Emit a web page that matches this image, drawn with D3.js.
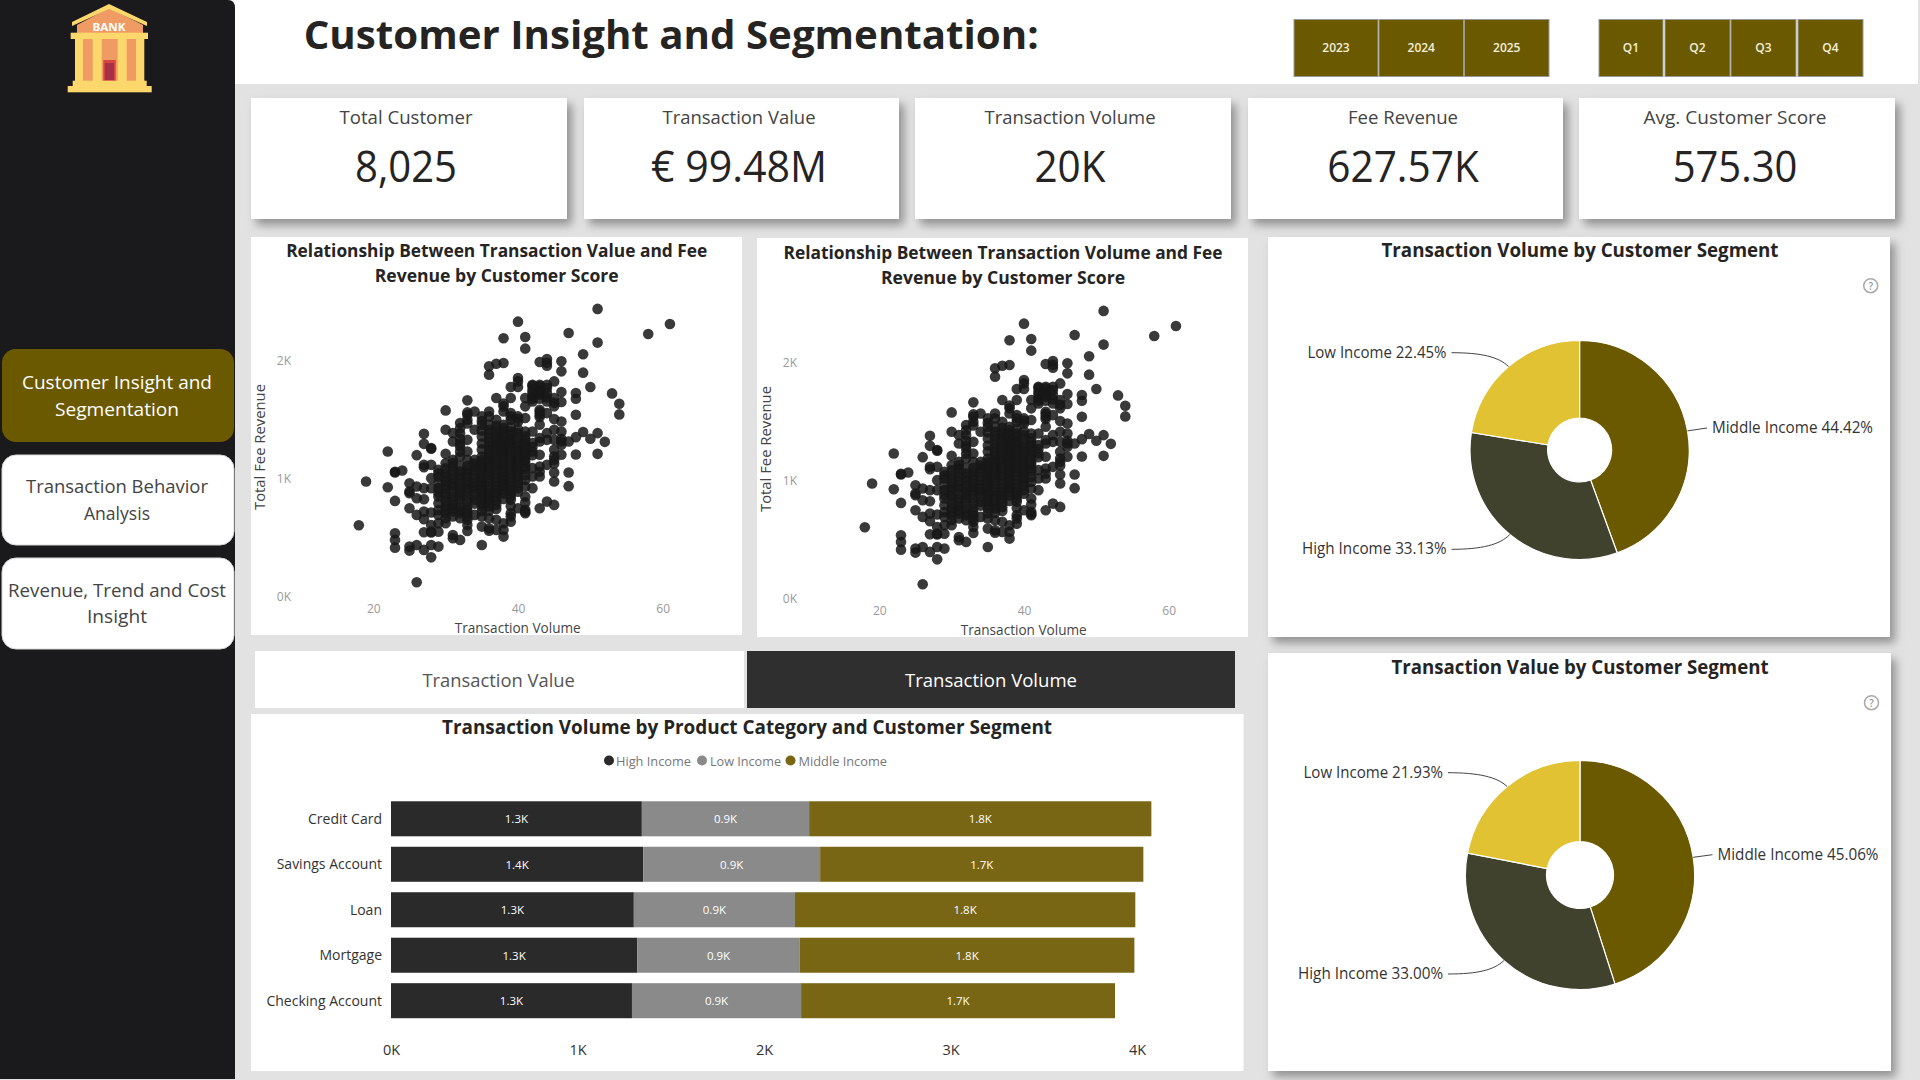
<!DOCTYPE html>
<html><head><meta charset="utf-8">
<script src="https://cdn.jsdelivr.net/npm/d3@7"></script>
<style>html,body{margin:0;padding:0;background:#e2e2e2;overflow:hidden}svg{display:block}text{font-family:"Open Sans",sans-serif;dominant-baseline:central}</style>
</head><body><svg id="c" width="1920" height="1080"></svg>
<script>
const kpiLabels=["Total Customer","Transaction Value","Transaction Volume","Fee Revenue","Avg. Customer Score"];
const kpiValues=["8,025","€ 99.48M","20K","627.57K","575.30"];
const yearLabels=["2023","2024","2025"];
const quarterLabels=["Q1","Q2","Q3","Q4"];
const navLabels=[["Customer Insight and","Segmentation"],["Transaction Behavior","Analysis"],["Revenue, Trend and Cost","Insight"]];
const segmentOrder=["High Income","Low Income","Middle Income"];
const productCategories=["Credit Card","Savings Account","Loan","Mortgage","Checking Account"];
const highIncomeVolume=[1345,1352,1302,1320,1292];
const lowIncomeVolume=[897,949,864,872,907];
const middleIncomeVolume=[1835,1733,1825,1794,1683];
const barTicks=[0,1000,2000,3000,4000];
const pieSegments=["Middle Income","High Income","Low Income"];
const volumeShare=[44.42,33.13,22.45];
const valueShare=[45.06,33.00,21.93];
const scatterXTicks=[20,40,60];
const scatterYTicks=[0,1000,2000];
// transaction volume -> fee revenue of each customer group
const feeByVolume=[
[18,[606]],[19,[977]],[22,[1232,929]],[23,[1054,1060,813,538,482,416]],[24,[1071]],
[25,[963,892,878,751,425,391]],[26,[1201,935,836,694,439,122]],
[27,[1382,1297,1119,1099,921,827,722,657,547,397]],
[28,[1261,1255,1119,1006,921,714,609,552,545,439,334]],
[29,[1076,1020,921,850,793,694,623,552,425,1048,965,880,735]],
[30,[1581,1416,1212,1133,1048,977,921,878,807,765,708,666,623,1090,1012,945,845,740]],
[31,[1388,1317,1161,1105,1034,992,935,892,850,779,722,680,524,496,1135,1070,960,815,750]],
[32,[1473,1388,1275,1190,1062,1006,963,907,850,765,708,666,482,1430,1340,1300,1230,1110,1030,925,880,820,735]],
[33,[1666,1564,1544,1501,1331,1232,1161,1076,1020,977,921,850,765,708,652,609,558,1470,1110,1050,950,890,810,730,680]],
[34,[1572,1416,1161,1105,1034,963,907,822,694,1130,1075,1000,935,870,790]],
[35,[1530,1459,1360,1190,1133,1076,1020,963,907,850,793,680,595,439,1490,1410,1300,1250,1160,1100,1045,990,935,880,820,765,725]],
[36,[1955,1884,1572,1530,1416,1346,1275,1218,1161,1119,1062,1006,935,878,822,765,665,580,560,1460,1380,1310,1245,1190,1140,1090,1035,975,905,850,795,730]],
[37,[1977,1686,1501,1416,1360,1303,1246,1190,1133,1076,1006,907,850,779,652,567,1450,1390,1330,1275,1220,1160,1105,1045,975,935,880,815,745]],
[38,[2193,1983,1615,1572,1459,1402,1346,1289,1246,1190,1133,1076,1020,963,907,623,567,510,1430,1370,1320,1265,1215,1160,1105,1050,990,935,875,830,1640]],
[39,[1779,1686,1558,1501,1402,1346,1303,1246,1190,1133,1076,1006,935,878,822,708,637,1530,1440,1375,1320,1275,1215,1160,1105,1040,970,905,850,770,680]],
[40,[2334,1855,1827,1779,1530,1487,1388,1303,1246,1190,1133,1076,992,921,751,1510,1420,1350,1275,1215,1160,1105,1050,1020,960,890]],
[41,[2204,2105,1686,1615,1516,1402,1331,1275,1218,1161,1105,935,850,737,708,1360,1300,1245,1190,1135,1080,1030,990,800,720]],
[42,[1799,1756,1700,1657,1402,1303,1232,1091,1020,921,1790,1730,1680,1270,1200]],
[43,[1992,1799,1756,1714,1586,1544,1459,1346,1317,1204,1105,1020,751,1785,1730,1680,1570,1525,1060]],
[44,[2017,1960,1799,1728,1657,1558,1388,1331,1119,807,1985,1770,1690]],
[45,[1827,1686,1615,1507,1416,1331,1246,1161,1054,977,779,1645,1190,1130]],
[46,[1997,1912,1736,1652,1487,1402,1317,1204,1290,1340]],
[47,[2238,1317,1054,938]],[48,[1728,1680,1544,1354,1207]],[49,[2057,1901,1397]],[50,[1779,1340]],
[51,[2442,2156,1388,1212]],[52,[1314]],[53,[1725]],[54,[1637,1547]],[58,[2229]],[61,[2314]]
];

const svg=d3.select("#c");
const defs=svg.append("defs");
const f=defs.append("filter").attr("id","sh").attr("x","-10%").attr("y","-10%").attr("width","125%").attr("height","125%");
f.append("feDropShadow").attr("dx",5).attr("dy",6).attr("stdDeviation",5).attr("flood-color","#777").attr("flood-opacity",.75);

function T(g,s,x,y,o={}){
  const t=g.append("text").attr("x",x).attr("y",y-1).text(s)
    .attr("font-size",o.size||14).attr("font-weight",o.weight||400).attr("fill",o.fill||"#333")
    .attr("text-anchor",o.anchor||"middle");
  if(o.width)t.attr("textLength",o.width).attr("lengthAdjust","spacingAndGlyphs");
  if(o.rot)t.attr("transform",`rotate(${o.rot} ${x} ${y-1})`);
  return t;
}
function R(g,x0,y0,x1,y1,fill,o={}){
  const r=g.append("rect").attr("x",x0).attr("y",y0).attr("width",x1-x0).attr("height",y1-y0).attr("fill",fill);
  if(o.rx)r.attr("rx",o.rx);
  if(o.shadow)r.attr("filter","url(#sh)");
  if(o.stroke)r.attr("stroke",o.stroke);
  return r;
}
const GOLD="#6b5900";
// page
R(svg,0,0,1920,1080,"#e2e2e2");
R(svg,230,0,1918,84,"#fff");
svg.append("path").attr("d","M0 0H228Q235 0 235 8V1079H0Z").attr("fill","#1a1a1c");

// bank icon
const ic=svg.append("g");
ic.append("path").attr("d","M109 8L77 25V33H143V25Z").attr("fill","#ef9b63");
ic.append("path").attr("d","M109 4L72 22V26L109 9L147 26V22Z").attr("fill","#fcd76c");
R(ic,77,39,143,81,"#ef9b63");
[[75,83],[92.7,101.7],[117.7,126.7],[136,144.3]].forEach(c=>R(ic,c[0],39,c[1],81,"#fcd76c"));
R(ic,70.7,32.7,148,39,"#fcd76c");
R(ic,103.3,60,115.7,81,"#d7453f");
R(ic,105,63,114,80,"#a5304a");
R(ic,72.7,80.7,146.7,86,"#fcd76c");
R(ic,67.7,86,151.7,92.3,"#fcd76c");
T(ic,"BANK",109,27,{size:11,weight:700,fill:"#fff",width:33});

// nav
const navBoxes=[[349,442,GOLD,"#fff",[383,410],[190,124],null],[455,545,"#fff","#444",[487,514],[182,66],"#d8d8d8"],[558,649,"#fff","#444",[591,617],[218,60],"#d8d8d8"]];
navLabels.forEach((l,i)=>{const b=navBoxes[i];
  R(svg,2,b[0],234,b[1],b[2],{rx:14,stroke:b[6]});
  l.forEach((s,j)=>T(svg,s,117,b[4][j],{size:19,fill:b[3],width:b[5][j]}));
});

// title
T(svg,"Customer Insight and Segmentation:",303.7,34,{size:40,weight:700,fill:"#252423",anchor:"start",width:735});

// slicers
const yearEdges=[[1294,1378],[1379,1463.5],[1464.5,1549]],qEdges=[[1599,1663],[1665,1730],[1731,1796],[1798,1863]];
yearLabels.forEach((s,i)=>{R(svg,yearEdges[i][0],19.5,yearEdges[i][1],76.5,GOLD,{stroke:"#999"});T(svg,s,(yearEdges[i][0]+yearEdges[i][1])/2,48,{size:12,weight:600,fill:"#f3efd9"});});
quarterLabels.forEach((s,i)=>{R(svg,qEdges[i][0],19.5,qEdges[i][1],76.5,GOLD,{stroke:"#999"});T(svg,s,(qEdges[i][0]+qEdges[i][1])/2,48,{size:12,weight:600,fill:"#f3efd9"});});

// KPI cards
const cardEdges=[[251,567],[584,899],[915,1231],[1248,1563],[1579,1895]];
const kpiCenters=[406,739,1070,1403,1735];
const kpiLabelW=[133,153,171,110,183],kpiValueW=[102,176,71,151.5,124.6];
kpiLabels.forEach((s,i)=>{
  R(svg,cardEdges[i][0],98,cardEdges[i][1],219,"#fff",{shadow:true});
  T(svg,s,kpiCenters[i],117.5,{size:18,fill:"#444",width:kpiLabelW[i]});
  T(svg,kpiValues[i],kpiCenters[i],166,{size:44,weight:400,fill:"#252423",width:kpiValueW[i]});
});

// scatter
const feePoints=feeByVolume.flatMap(d=>d[1].map(v=>({vol:d[0],fee:v})));
function scatter(dx,dy,panel,title,titleW,titleCx){
  R(svg,panel[0],panel[1],panel[2],panel[3],"#fff");
  T(svg,title[0],titleCx,250.7+dy,{size:18,weight:700,fill:"#252423",width:titleW});
  T(svg,title[1],titleCx,276+dy,{size:18,weight:700,fill:"#252423",width:244});
  const x=d3.scaleLinear().domain([20,60]).range([373.3+dx,662.7+dx]);
  const y=d3.scaleLinear().domain([0,2000]).range([596.7+dy,361+dy]);
  const ax=svg.append("g").attr("transform",`translate(0,${608+dy})`).call(d3.axisBottom(x).tickValues(scatterXTicks).tickSize(0).tickPadding(0));
  const ay=svg.append("g").attr("transform",`translate(${291+dx},-1)`).call(d3.axisLeft(y).tickValues(scatterYTicks).tickSize(0).tickPadding(0).tickFormat(v=>v/1000+"K"));
  [ax,ay].forEach(a=>{a.select(".domain").remove();a.selectAll("text").attr("font-size",12).attr("fill","#999").attr("font-family","Open Sans").attr("dy",0);});
  svg.append("g").selectAll("circle").data(feePoints).join("circle")
    .attr("cx",d=>x(d.vol)).attr("cy",d=>y(d.fee)).attr("r",5.3).attr("fill","#181818").attr("fill-opacity",.85);
  T(svg,"Transaction Volume",517.7+dx,628+dy,{size:14,fill:"#444",width:126});
  T(svg,"Total Fee Revenue",259+dx,448+dy,{size:14,fill:"#444",width:126,rot:-90});
}
scatter(0,0,[251,237,742,635],["Relationship Between Transaction Value and Fee","Revenue by Customer Score"],421,496.7);
scatter(506,2,[757,238,1248,637],["Relationship Between Transaction Volume and Fee","Revenue by Customer Score"],439,1003);

// toggle
R(svg,255,651,744,708,"#fff");
R(svg,747,651,1235,708,"#2f2f2f");
T(svg,"Transaction Value",498.7,681,{size:18,fill:"#555",width:152.5});
T(svg,"Transaction Volume",991,681,{size:18,fill:"#fff",width:172});

// stacked bars
R(svg,251,714,1243.5,1071,"#fff");
T(svg,"Transaction Volume by Product Category and Customer Segment",747,728,{size:19,weight:700,fill:"#252423",width:610});
const barColors=d3.scaleOrdinal().domain(segmentOrder).range(["#2a2a2a","#8a8a8a","#786614"]);
const legendX=[[609,616,75],[702,710,71],[790.5,798.5,88.5]];
segmentOrder.forEach((s,i)=>{
  svg.append("circle").attr("cx",legendX[i][0]).attr("cy",760.5).attr("r",5).attr("fill",barColors(s));
  T(svg,s,legendX[i][1],762,{size:13,fill:"#777",anchor:"start",width:legendX[i][2]});
});
const rows=productCategories.map((c,i)=>({cat:c,"High Income":highIncomeVolume[i],"Low Income":lowIncomeVolume[i],"Middle Income":middleIncomeVolume[i]}));
const xB=d3.scaleLinear().domain([0,4000]).range([391,1137]);
const yB=d3.scaleBand().domain(productCategories).range([789,1030.5]).paddingInner(.23).paddingOuter(.27);
const stack=d3.stack().keys(segmentOrder)(rows);
stack.forEach(layer=>{
  const g=svg.append("g");
  g.selectAll("rect").data(layer).join("rect")
    .attr("x",d=>xB(d[0])).attr("width",d=>xB(d[1])-xB(d[0]))
    .attr("y",d=>yB(d.data.cat)).attr("height",yB.bandwidth()).attr("fill",barColors(layer.key));
  g.selectAll("text").data(layer).join("text")
    .attr("x",d=>(xB(d[0])+xB(d[1]))/2).attr("y",d=>yB(d.data.cat)+yB.bandwidth()/2)
    .attr("text-anchor","middle").attr("font-size",11.5).attr("fill","#fff")
    .text(d=>d3.format(".1f")((d[1]-d[0])/1000)+"K");
});
const catAxis=svg.append("g").attr("transform","translate(382,-0.5)").call(d3.axisLeft(yB).tickSize(0).tickPadding(0));
catAxis.select(".domain").remove();
catAxis.selectAll("text").attr("font-size",14).attr("fill","#333").attr("font-family","Open Sans").attr("dy",0);
const valAxis=svg.append("g").attr("transform","translate(0,1049)").call(d3.axisBottom(xB).tickValues(barTicks).tickSize(0).tickPadding(0).tickFormat(v=>v/1000+"K"));
valAxis.select(".domain").remove();
valAxis.selectAll("text").attr("font-size",14.5).attr("fill","#333").attr("font-family","Open Sans").attr("dy",0);

// pies
const pieColors=d3.scaleOrdinal().domain(pieSegments).range(["#6b5900","#40422d","#e1c233"]);
function donut(shares,cx,cy,rO,rI,panel,title,titleY,titleW,help,lab){
  R(svg,panel[0],panel[1],panel[2],panel[3],"#fff",{shadow:true});
  T(svg,title,1580,titleY,{size:19,weight:700,fill:"#252423",width:titleW});
  const h=svg.append("g");
  h.append("circle").attr("cx",help[0]).attr("cy",help[1]).attr("r",7).attr("fill","none").attr("stroke","#aaa").attr("stroke-width",1.5);
  T(h,"?",help[0],help[1]+1,{size:10,weight:600,fill:"#999"});
  const pie=d3.pie().sort(null).value(d=>d.v)(pieSegments.map((s,i)=>({s,v:shares[i]})));
  const arc=d3.arc().innerRadius(rI).outerRadius(rO);
  const g=svg.append("g").attr("transform",`translate(${cx},${cy})`);
  g.selectAll("path").data(pie).join("path").attr("d",arc).attr("fill",d=>pieColors(d.data.s)).attr("stroke","#fff").attr("stroke-width",1.2);
  pie.forEach((p,i)=>{
    const m=(p.startAngle+p.endAngle)/2, px=cx+Math.sin(m)*rO, py=cy-Math.cos(m)*rO;
    const l=lab[i], right=l[2]==="start";
    const ex=right?l[0]-5:l[0]+5, ey=l[1];
    svg.append("path").attr("fill","none").attr("stroke","#444").attr("stroke-width",1)
      .attr("d",right?`M${px} ${py}L${ex} ${ey}`:`M${ex} ${ey}C${ex+30} ${ey} ${px-10} ${ey+(py-ey)*.3} ${px} ${py}`);
    T(svg,`${p.data.s} ${p.data.v.toFixed(2)}%`,l[0],l[1],{size:15.5,fill:"#333",anchor:l[2],width:l[3]});
  });
}
donut(volumeShare,1579.6,450,109.6,32,[1268,237,1890,637],"Transaction Volume by Customer Segment",250.7,397,[1870.7,285.7],
  [[1712,428,"start",161],[1446.5,549.3,"end",144.5],[1446.5,352.7,"end",139]]);
donut(valueShare,1580,875,114.6,33.5,[1268,653,1891,1071],"Transaction Value by Customer Segment",668,377,[1871.5,702.7],
  [[1717.5,854.7,"start",161],[1443,974,"end",145],[1443,772.7,"end",139.5]]);
</script></body></html>
